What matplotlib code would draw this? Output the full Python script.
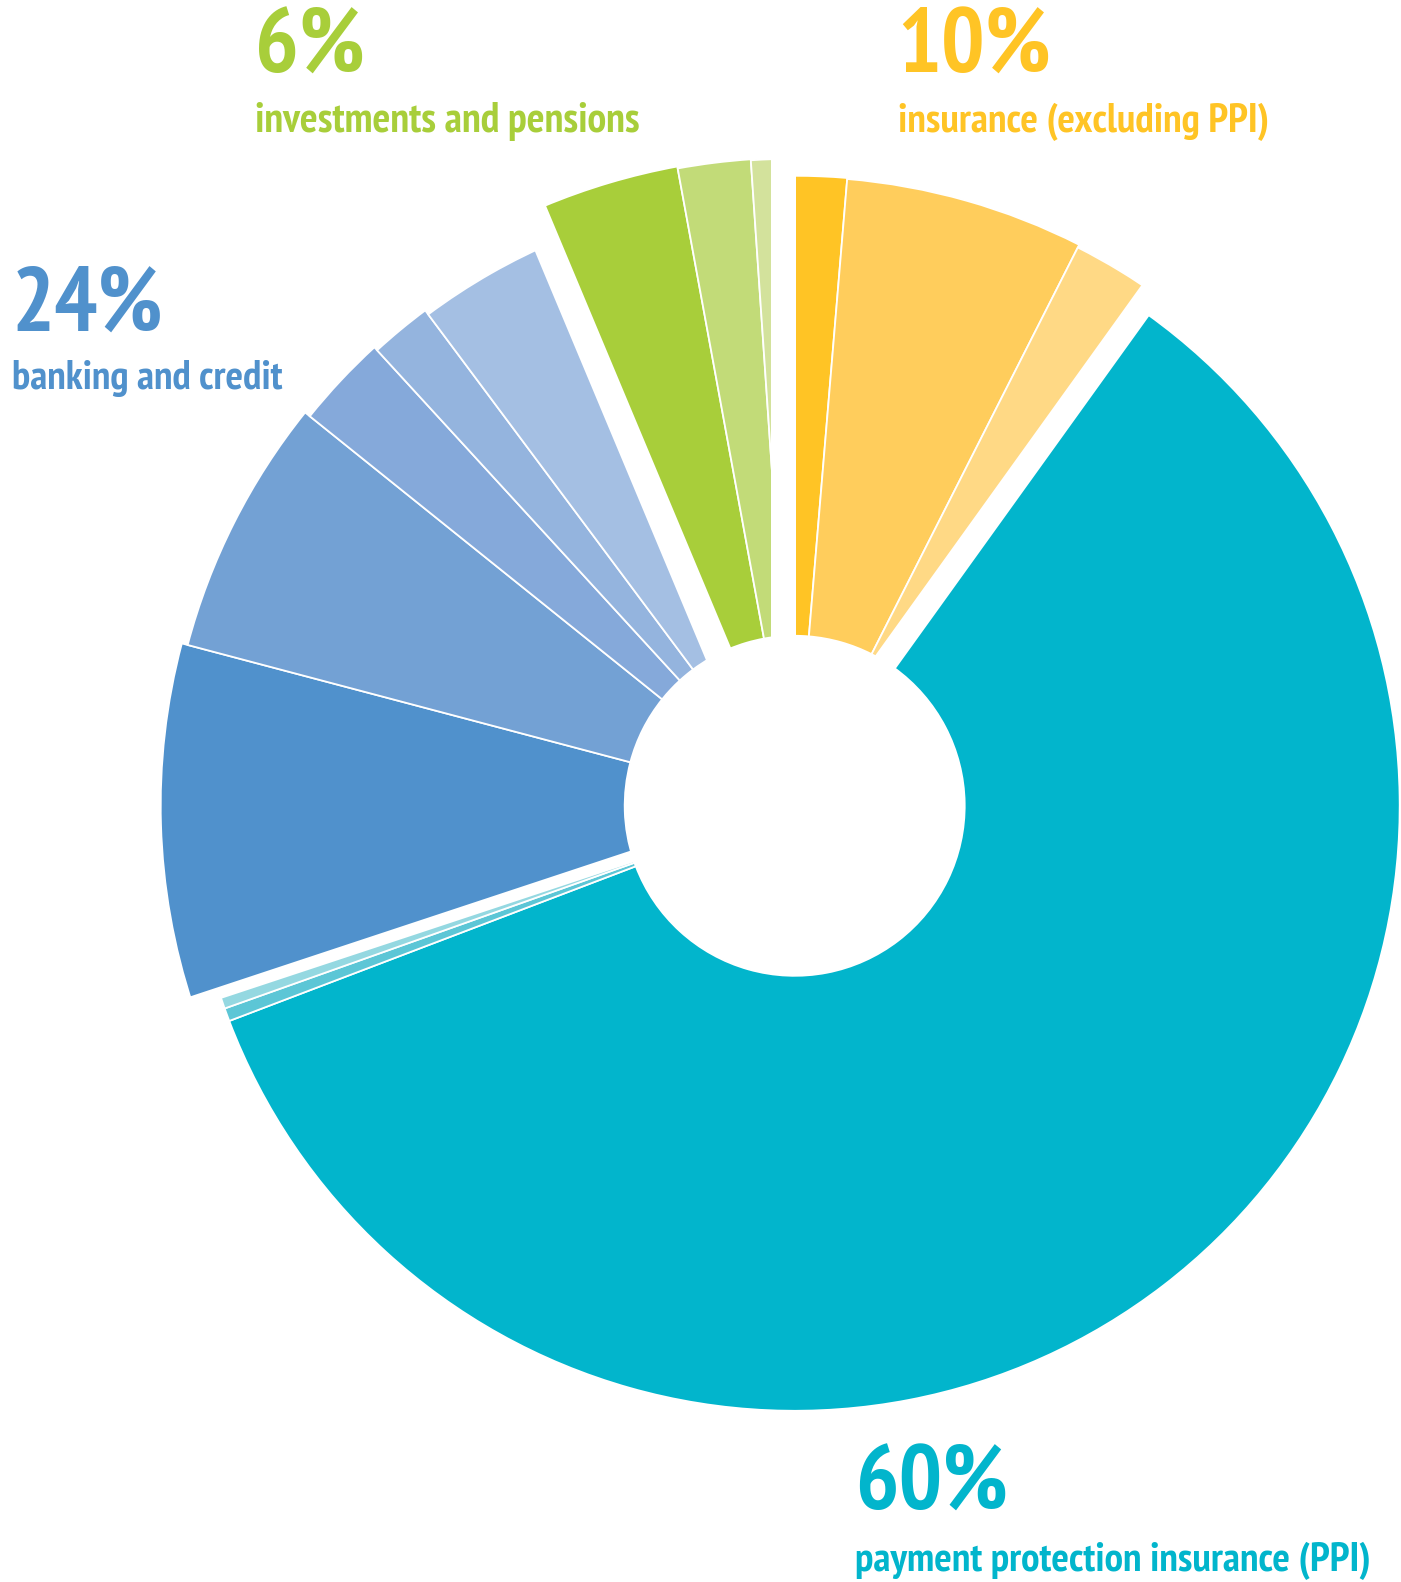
import matplotlib
matplotlib.use("Agg")
import matplotlib.pyplot as plt
from matplotlib.patches import Polygon
from matplotlib import font_manager as fm
import numpy as np

# ── Data (share of complaints, %) ───────────────────────────────
group_names = ["insurance (excluding PPI)", "payment protection insurance (PPI)",
               "banking and credit", "investments and pensions"]
group_labels = ["10%", "60%", "24%", "6%"]

insurance = [1.33, 6.14, 2.45]
ppi = [59.30, 0.35, 0.35]
banking = [9.21, 6.65, 2.42, 1.61, 3.89]
investments = [3.42, 1.81, 1.08]

# ── Styles ──────────────────────────────────────────────────────
group_colors = [
    ["#FFC425", "#FFCD5C", "#FFD985"],
    ["#02B5CC", "#5CC6D6", "#94D8E1"],
    ["#5091CC", "#73A1D4", "#85A9DA", "#94B4DE", "#A4BFE3"],
    ["#A8CE3A", "#C2DB78", "#D3E29C"],
]
text_colors = ["#FFC425", "#02B5CC", "#5091CC", "#A8CE3A"]

# outer radius of each slice (px)
group_radii = [
    [630, 629, 626],
    [605, 605, 605],
    [634, 628, 622, 618, 613],
    [650, 648, 647],
]
R_IN = 170

# white gap after each group: (px towards previous group, px towards next)
gaps = [(22.4, 2.0), (3.0, 9.0), (25.6, 2.3), (23.5, 1.5)]

W, H = 1401, 1582
CX, CY = 794.7, 805.8          # pie centre in pixels from top-left

# label layout: left x, baseline of big number, baseline of name, widths
label_pos = [(897.7, 72.6, 132.0), (855.3, 1510.0, 1571.0),
             (12.1, 330.8, 389.0), (255.0, 72.6, 132.0)]
big_widths = [154, 153, 152, 110]
name_widths = [371, 516, 271, 386]


# ── pick a narrow bold face if there is one ─────────────────────
def pick_font():
    bold = [f for f in fm.fontManager.ttflist
            if str(f.weight) in ("700", "bold", "800", "heavy")]
    for test in (lambda f: "Narrow" in f.name,
                 lambda f: "Condensed" in f.name,
                 lambda f: f.stretch in ("condensed", "semi-condensed"),
                 lambda f: f.name == "Roboto"):
        hits = [f for f in bold if test(f)]
        if hits:
            return fm.FontProperties(fname=hits[0].fname)
    return fm.FontProperties(family="DejaVu Sans", weight="bold")


FP = pick_font()

fig = plt.figure(figsize=(W / 100, H / 100), dpi=100)
fig.patch.set_facecolor("white")
ax = fig.add_axes([0, 0, 1, 1])

groups = [insurance, ppi, banking, investments]
values = [v for g in groups for v in g]
colors = [c for g in group_colors for c in g]
radii = [r for g in group_radii for r in g]

wedges, _ = ax.pie(values, colors=colors, startangle=90, counterclock=False,
                   radius=600, wedgeprops=dict(width=430, edgecolor="white",
                                               linewidth=1.3))
for w, r in zip(wedges, radii):
    w.set_radius(r)
    w.set_width(r - R_IN)

# ── gaps between groups ─────────────────────────────────────────
total = sum(values)
cum = np.cumsum([sum(g) for g in groups]) / total * 360.0
for ang, (a_prev, b_next) in zip(cum, gaps):
    t = np.deg2rad(ang)
    u = np.array([np.sin(t), np.cos(t)])       # outward radial
    n = np.array([-np.cos(t), np.sin(t)])      # towards previous group
    pts = [a_prev * n, 720 * u + a_prev * n,
           720 * u - b_next * n, -b_next * n]
    ax.add_patch(Polygon(pts, closed=True, facecolor="white",
                         edgecolor="none", zorder=5))

ax.set_xlim(-CX, W - CX)
ax.set_ylim(CY - H, CY)
ax.set_aspect("equal")
ax.axis("off")

# ── labels ──────────────────────────────────────────────────────
texts = []
for (px, py_big, py_small), lab, name, col, wb, wn in zip(
        label_pos, group_labels, group_names, text_colors,
        big_widths, name_widths):
    t1 = ax.text(px - CX, CY - py_big, lab, ha="left", va="baseline",
                 color=col, fontproperties=FP.copy())
    t1.set_fontsize(59)
    t2 = ax.text(px - CX, CY - py_small, name, ha="left", va="baseline",
                 color=col, fontproperties=FP.copy())
    t2.set_fontsize(27)
    texts += [(t1, wb), (t2, wn)]

# size each label so its width matches the original
fig.canvas.draw()
rend = fig.canvas.get_renderer()
for t, target in texts:
    bw = t.get_window_extent(renderer=rend).width
    t.set_fontsize(t.get_fontsize() * target / bw)

fig.savefig("out.png", dpi=100, facecolor="white")
